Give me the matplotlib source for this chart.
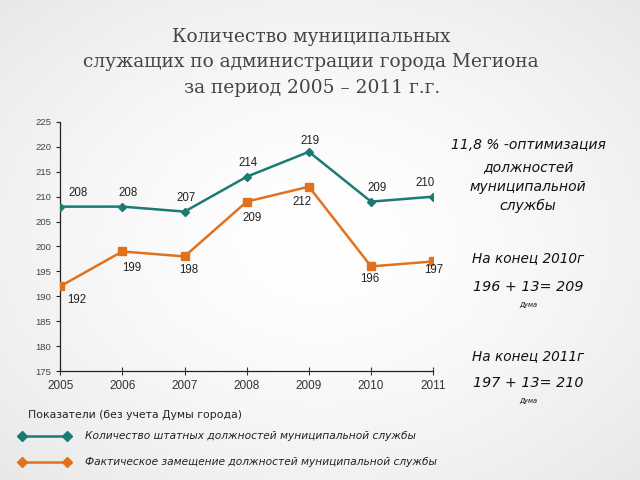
import matplotlib
matplotlib.use("Agg")
import matplotlib.pyplot as plt
from matplotlib.lines import Line2D
import numpy as np

years = [2005, 2006, 2007, 2008, 2009, 2010, 2011]
staff = [208, 208, 207, 214, 219, 209, 210]
actual = [192, 199, 198, 209, 212, 196, 197]
yticks = list(range(175, 226, 5))

teal = "#1b7b72"
orange = "#e2711d"

fig = plt.figure(figsize=(6.4, 4.8), dpi=100)
fig.patch.set_facecolor("#f4f4f4")

# subtle radial background
bg = fig.add_axes([0, 0, 1, 1], zorder=-10)
yy, xx = np.mgrid[-1:1:240j, -1:1:320j]
r = np.sqrt(xx**2 + yy**2) / np.sqrt(2)
shade = 1.0 - 0.09 * r**1.5
bg.imshow(np.dstack([shade] * 3), extent=[0, 1, 0, 1], aspect="auto")
bg.axis("off")

ax = fig.add_axes([0.094, 0.227, 0.583, 0.519])
ax.set_facecolor("none")
ax.plot(years, staff, color=teal, lw=1.8, marker="D", ms=4.5, zorder=3)
ax.plot(years, actual, color=orange, lw=1.8, marker="s", ms=5.5, zorder=3)
ax.set_xlim(2005, 2011)
ax.set_ylim(175, 225)
ax.set_yticks(yticks)
ax.set_xticks(years)
for s in ["top", "right"]:
    ax.spines[s].set_visible(False)
for s in ["left", "bottom"]:
    ax.spines[s].set_color("#222222")
    ax.spines[s].set_linewidth(0.9)
ax.tick_params(axis="y", labelsize=6.8, length=3, direction="out", colors="#222222",
               labelcolor="#444444")
ax.tick_params(axis="x", labelsize=8.5, direction="inout", length=6, colors="#333333")
for lbl in ax.get_yticklabels() + ax.get_xticklabels():
    lbl.set_family("Liberation Sans")

staff_off = [(6, 10), (4, 10), (1, 9.5), (1, 10), (1, 8), (4, 10), (-6, 10)]
staff_ha = ["left", "center", "center", "center", "center", "center", "center"]
actual_off = [(12, -9.5), (7, -12), (3, -9.5), (4, -11.5), (-5, -11), (-1, -9), (0, -6.5)]
for x, y, (dx, dy), ha in zip(years, staff, staff_off, staff_ha):
    ax.annotate(str(y), (x, y), xytext=(dx, dy), textcoords="offset points",
                ha=ha, va="center", fontsize=8.3,
                family="Liberation Sans", color="#222222")
for x, y, (dx, dy) in zip(years, actual, actual_off):
    ax.annotate(str(y), (x, y), xytext=(dx, dy), textcoords="offset points",
                ha="center", va="center", fontsize=8.3,
                family="Liberation Sans", color="#222222")

# Title
tkw = dict(ha="center", va="center", fontsize=13.4, family="DejaVu Serif", color="#444444")
fig.text(0.486, 0.922, "Количество муниципальных", **tkw)
fig.text(0.486, 0.871, "служащих по администрации города Мегиона", **tkw)
fig.text(0.487, 0.817, "за период 2005 – 2011 г.г.", **tkw)

# Right-side annotations
rx = 0.825
right_kw = dict(ha="center", va="center", family="DejaVu Sans", style="italic", color="#111111")
fig.text(rx, 0.698, "11,8 % -оптимизация", fontsize=10, **right_kw)
fig.text(rx, 0.652, "должностей", fontsize=10, **right_kw)
fig.text(rx, 0.610, "муниципальной", fontsize=10, **right_kw)
fig.text(rx, 0.571, "службы", fontsize=10, **right_kw)
fig.text(rx, 0.462, "На конец 2010г", fontsize=9.8, **right_kw)
fig.text(rx, 0.402, "196 + 13= 209", fontsize=10.3, **right_kw)
fig.text(rx, 0.365, "Дума", fontsize=4.8, **right_kw)
fig.text(rx, 0.258, "На конец 2011г", fontsize=9.8, **right_kw)
fig.text(rx, 0.202, "197 + 13= 210", fontsize=10.3, **right_kw)
fig.text(rx, 0.165, "Дума", fontsize=4.8, **right_kw)

# Legend
fig.text(0.044, 0.135, "Показатели (без учета Думы города)", ha="left", va="center",
         fontsize=7.8, family="DejaVu Sans", color="#222222")
fig.add_artist(Line2D([0.034, 0.105], [0.092, 0.092], transform=fig.transFigure,
                      color=teal, lw=1.8, marker="D", ms=5, markevery=[0, 1]))
fig.add_artist(Line2D([0.034, 0.105], [0.0375, 0.0375], transform=fig.transFigure,
                      color=orange, lw=1.8, marker="D", ms=5, markevery=[0, 1]))
fig.text(0.133, 0.092, "Количество штатных должностей муниципальной службы", ha="left",
         va="center", fontsize=7.7, family="DejaVu Sans", style="italic", color="#222222")
fig.text(0.133, 0.0375, "Фактическое замещение должностей муниципальной службы", ha="left",
         va="center", fontsize=7.7, family="DejaVu Sans", style="italic", color="#222222")

fig.savefig("out.png", dpi=100)
